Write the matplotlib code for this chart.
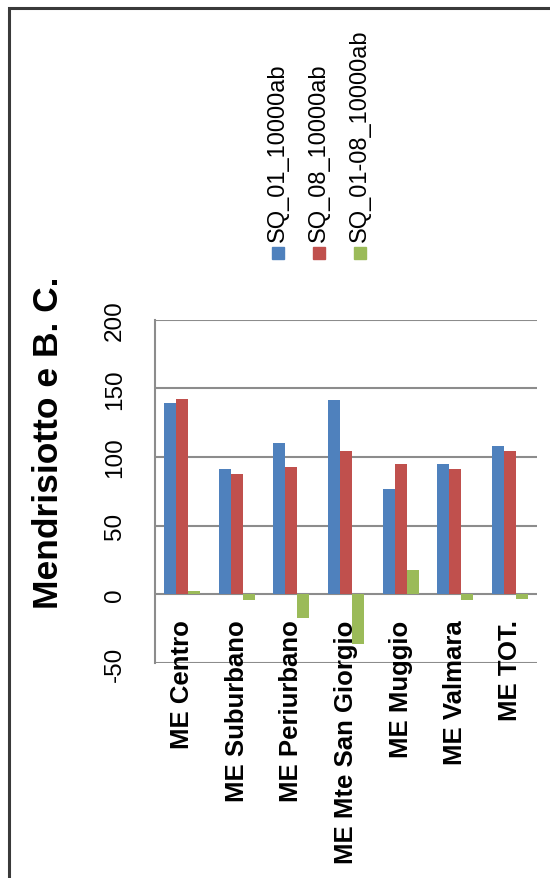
import matplotlib
matplotlib.use("Agg")
import matplotlib.pyplot as plt
import numpy as np
from matplotlib.transforms import ScaledTranslation
from matplotlib.patches import Rectangle

categories = ["ME Centro", "ME Suburbano", "ME Periurbano", "ME Mte San Giorgio",
              "ME Muggio", "ME Valmara", "ME TOT."]
series_names = ["SQ_01_10000ab", "SQ_08_10000ab", "SQ_01-08_10000ab"]
sq01 = [139, 91.3, 110.4, 141.3, 76.7, 94.9, 108]
sq08 = [142.2, 87.6, 93, 104.6, 94.7, 91, 104.4]
sq0108 = [2.7, -3.9, -17.5, -36.4, 17.7, -3.9, -3.4]
yticks = [-50, 0, 50, 100, 150, 200]
title = "Mendrisiotto e B. C."

colors = ["#4F81BD", "#C0504D", "#9BBB59"]
plt.rcParams['font.family'] = ['Liberation Sans', 'DejaVu Sans']

W, H = 550, 879
fig = plt.figure(figsize=(W / 100, H / 100), dpi=100)

def fx(px):
    return px / W

def fy(py):
    return 1 - py / H

# outer frame
fig.patches.append(Rectangle((fx(9), fy(900)), fx(600), fy(9) - fy(900), transform=fig.transFigure,
                             fill=False, edgecolor="#3a3a3a", linewidth=2.2))

ax_l, ax_r, ax_t, ax_b = 155, 537, 320.7, 664
ax = fig.add_axes([fx(ax_l), fy(ax_b), fx(ax_r - ax_l), fy(ax_t) - fy(ax_b)])

x = np.arange(len(categories))
bw = 0.22
for i, (vals, c) in enumerate(zip([sq01, sq08, sq0108], colors)):
    ax.bar(x + (i - 1) * bw, vals, bw, color=c, zorder=2, linewidth=0)

ax.set_xlim(-0.5, len(categories) - 0.5)
ax.set_ylim(-50, 200)
ax.set_yticks(yticks)
ax.set_yticklabels([str(v) for v in yticks], rotation=90, va='center', ha='right', fontsize=17.5)
ax.tick_params(axis='y', length=0, pad=21, colors="#000000")
ax.set_xticks([])
for s in ["top", "right", "bottom"]:
    ax.spines[s].set_visible(False)
ax.spines["left"].set_color("#8c8c8c")
ax.spines["left"].set_linewidth(1.5)
for v in yticks:
    ax.axhline(v, color="#8c8c8c", linewidth=1.5, zorder=1)

off = ScaledTranslation(0, -25 / 100, fig.dpi_scale_trans)
for i, c in enumerate(categories):
    ax.text(i, 0, c, transform=ax.transData + off, rotation=90, ha='center', va='top',
            fontsize=18.5, fontweight='bold', zorder=5)

fig.text(fx(48), fy(443), title, rotation=90, ha='center', va='center',
         fontsize=25.5, fontweight='bold')

# legend (rotated)
leg_x = [278, 319, 360]
for name, c, lx in zip(series_names, colors, leg_x):
    fig.patches.append(Rectangle((fx(lx - 6), fy(260)), fx(12), fy(248) - fy(260),
                                 transform=fig.transFigure, color=c))
    fig.text(fx(lx), fy(242), name, rotation=90, ha='center', va='bottom', fontsize=17)

fig.savefig("out.png", dpi=100)
